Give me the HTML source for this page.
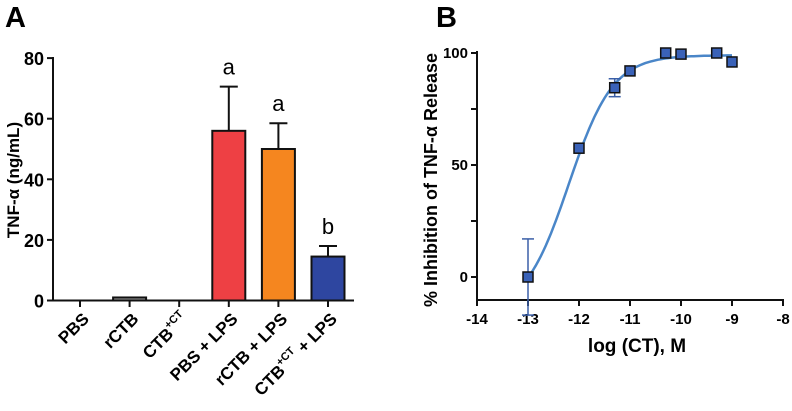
<!DOCTYPE html>
<html><head><meta charset="utf-8"><style>
body{margin:0;background:#fff;}
svg{display:block;font-family:"Liberation Sans",Arial,sans-serif;font-weight:bold;}
</style></head><body>
<svg id="chart" width="792" height="411" viewBox="0 0 792 411" xmlns="http://www.w3.org/2000/svg">
<text x="5" y="27" font-size="29">A</text>
<text x="436" y="27" font-size="29">B</text>
<g id="pa"></g>
<g id="pb"></g>
</svg>
<script>
const catsA = ["PBS","rCTB","CTB+CT","PBS + LPS","rCTB + LPS","CTB+CT + LPS"];
const valsA = [0, 1, 0, 56, 50, 14.5];
const errA = [0, 0, 0, 14.6, 8.5, 3.5];
const letA = ["", "", "", "a", "a", "b"];
const colA = ["#888","#999","#888","#ee4044","#f5861f","#2e46a0"];
const ticksA = [0,20,40,60,80];

const xB = [-13, -12, -11.3, -11, -10.3, -10, -9.3, -9];
const yB = [0, 57.5, 84.5, 92, 100, 99.5, 100, 96];
const eB = [17, 0, 4, 0, 0, 0, 0, 0];
const ticksBx = [-14,-13,-12,-11,-10,-9,-8];
const ticksBy = [0,50,100];
const fitB = [-16, 99, -12.2, 1.0]; // bottom, top, logEC50, hill

const NS="http://www.w3.org/2000/svg";
function mk(p,t,a,txt){const e=document.createElementNS(NS,t);for(const k in a)e.setAttribute(k,a[k]);if(txt!==undefined)e.textContent=txt;p.appendChild(e);return e;}

// Panel A
const pa=document.getElementById('pa');
const yA=v=>300.5-v*3.03;
const xA=i=>80+i*49.6;
mk(pa,'line',{x1:53,y1:57,x2:53,y2:301,stroke:'#111','stroke-width':2});
mk(pa,'line',{x1:52,y1:300.5,x2:354,y2:300.5,stroke:'#111','stroke-width':2});
ticksA.forEach(t=>{
 const l=mk(pa,'line',{x1:47,y1:yA(t),x2:53,y2:yA(t),stroke:'#111','stroke-width':2});
 
 
 const tx=mk(pa,'text',{x:44,y:yA(t)+7,'font-size':18,'text-anchor':'end'},String(t));
 
 
});
const yt=mk(pa,'text',{transform:'translate(19,180) rotate(-90)','font-size':17,'text-anchor':'middle'},'TNF-\u03b1 (ng/mL)');


catsA.forEach((c,i)=>{
 const cx=xA(i);
 mk(pa,'line',{x1:cx,y1:300,x2:cx,y2:307,stroke:'#111','stroke-width':2});
 if(valsA[i]>0){
  const b=mk(pa,'rect',{x:cx-16.5,y:yA(valsA[i]),width:33,height:yA(0)-yA(valsA[i]),fill:colA[i],stroke:'#111','stroke-width':2});
  
  
 }
 if(errA[i]>0){
  const top=yA(valsA[i]+errA[i]);
  mk(pa,'line',{x1:cx,y1:yA(valsA[i]),x2:cx,y2:top,stroke:'#111','stroke-width':2});
  mk(pa,'line',{x1:cx-9,y1:top,x2:cx+9,y2:top,stroke:'#111','stroke-width':2});
 }
 if(letA[i]){
  const lt=mk(pa,'text',{x:cx,y:yA(valsA[i]+errA[i])-12,'font-size':22,'font-weight':'normal','text-anchor':'middle'},letA[i]);
  
  
 }
 const g=mk(pa,'text',{transform:`translate(${cx+10},320) rotate(-45)`,'font-size':17,'text-anchor':'end'});
 
 
 const parts=c.split('+CT');
 if(parts.length>1){
  mk(g,'tspan',{},parts[0]);
  mk(g,'tspan',{'font-size':11,dy:-8},'+CT');
  mk(g,'tspan',{dy:8},parts[1]);
 } else g.textContent=c;
});

// Panel B
const pb=document.getElementById('pb');
const X=v=>477+(v+14)*51;
const Y=v=>277-v*2.24;
mk(pb,'line',{x1:477,y1:51,x2:477,y2:301,stroke:'#111','stroke-width':2});
mk(pb,'line',{x1:476,y1:300,x2:784,y2:300,stroke:'#111','stroke-width':2});
ticksBx.forEach(t=>{
 mk(pb,'line',{x1:X(t),y1:300,x2:X(t),y2:306,stroke:'#111','stroke-width':2});
 const tx=mk(pb,'text',{x:X(t),y:324,'font-size':15,'text-anchor':'middle'},String(t));
 
 
});
[0,25,50,75,100].forEach(t=>mk(pb,'line',{x1:471,y1:Y(t),x2:477,y2:Y(t),stroke:'#111','stroke-width':2}));
ticksBy.forEach(t=>{
 const tx=mk(pb,'text',{x:468,y:Y(t)+5,'font-size':15,'text-anchor':'end'},String(t));
 
 
});
const xt=mk(pb,'text',{x:637,y:352,'font-size':19,'text-anchor':'middle'},'log (CT), M');


const yb=mk(pb,'text',{transform:'translate(437,180) rotate(-90)','font-size':18,'text-anchor':'middle'},'% Inhibition of TNF-\u03b1 Release');


let d='';
for(let v=-13;v<=-8.99;v+=0.05){
 const f=fitB[0]+(fitB[1]-fitB[0])/(1+Math.pow(10,(fitB[2]-v)*fitB[3]));
 d+=(d?'L':'M')+X(v).toFixed(1)+','+Y(f).toFixed(1);
}
const cv=mk(pb,'path',{d:d,fill:'none',stroke:'#4a86c8','stroke-width':2.5});


xB.forEach((x,i)=>{
 if(eB[i]>0){
  mk(pb,'line',{x1:X(x),y1:Y(yB[i]-eB[i]),x2:X(x),y2:Y(yB[i]+eB[i]),stroke:'#3a5fa8','stroke-width':1.5});
  mk(pb,'line',{x1:X(x)-6,y1:Y(yB[i]+eB[i]),x2:X(x)+6,y2:Y(yB[i]+eB[i]),stroke:'#3a5fa8','stroke-width':1.5});
  mk(pb,'line',{x1:X(x)-6,y1:Y(yB[i]-eB[i]),x2:X(x)+6,y2:Y(yB[i]-eB[i]),stroke:'#3a5fa8','stroke-width':1.5});
 }
 const p=mk(pb,'rect',{x:X(x)-5,y:Y(yB[i])-5,width:10,height:10,fill:'#3a62b8',stroke:'#111','stroke-width':1.5});
 
 
});
</script>
</body></html>
